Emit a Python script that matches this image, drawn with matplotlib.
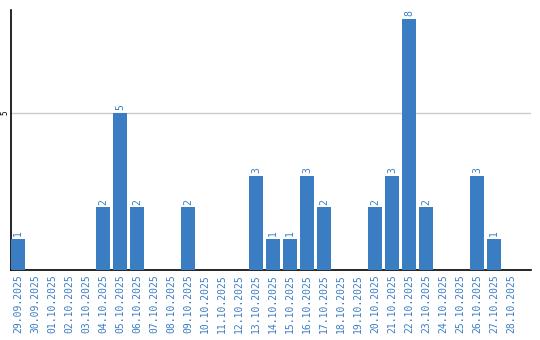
import matplotlib
matplotlib.use("Agg")
import matplotlib.pyplot as plt
import numpy as np

dates = ['29.09.2025', '30.09.2025', '01.10.2025', '02.10.2025', '03.10.2025',
         '04.10.2025', '05.10.2025', '06.10.2025', '07.10.2025', '08.10.2025',
         '09.10.2025', '10.10.2025', '11.10.2025', '12.10.2025', '13.10.2025',
         '14.10.2025', '15.10.2025', '16.10.2025', '17.10.2025', '18.10.2025',
         '19.10.2025', '20.10.2025', '21.10.2025', '22.10.2025', '23.10.2025',
         '24.10.2025', '25.10.2025', '26.10.2025', '27.10.2025', '28.10.2025']
counts = [1, 0, 0, 0, 0, 2, 5, 2, 0, 0,
          2, 0, 0, 0, 3, 1, 1, 3, 2, 0,
          0, 2, 3, 8, 2, 0, 0, 3, 1, 0]
yticks = [5]

blue = '#3b7dc3'
mono = 'DejaVu Sans Mono'

fig = plt.figure(figsize=(5.4, 3.4), dpi=100)
ax = fig.add_axes([11/540, 1 - 270/340, 520/540, 260/340])

x = np.arange(len(dates))
bw = 14/17
ax.bar(x, counts, width=bw, align='edge', color=blue, zorder=3)

for xi, c in zip(x, counts):
    if c > 0:
        ax.text(xi + bw/2, c + 0.08, str(c), rotation=90, ha='center', va='bottom',
                color=blue, fontsize=7, family=mono)

ax.set_xlim(0, 520/17)
ax.set_ylim(0, 260/31.4)
ax.set_xticks(x + bw/2)
ax.set_xticklabels(dates, rotation=90, color=blue, fontsize=7, family=mono)
ax.set_yticks(yticks)
ax.set_yticklabels([str(v) for v in yticks], rotation=90, va='center', fontsize=5.5, family=mono)
ax.tick_params(axis='x', length=0, pad=3)
ax.tick_params(axis='y', length=0, pad=1)
ax.grid(axis='y', color='#cccccc', linewidth=1, zorder=0)

for s in ['top', 'right']:
    ax.spines[s].set_visible(False)
ax.spines['left'].set_color('black')
ax.spines['bottom'].set_color('black')
ax.spines['left'].set_linewidth(1.2)
ax.spines['bottom'].set_linewidth(1.2)

fig.savefig('out.png', dpi=100)
